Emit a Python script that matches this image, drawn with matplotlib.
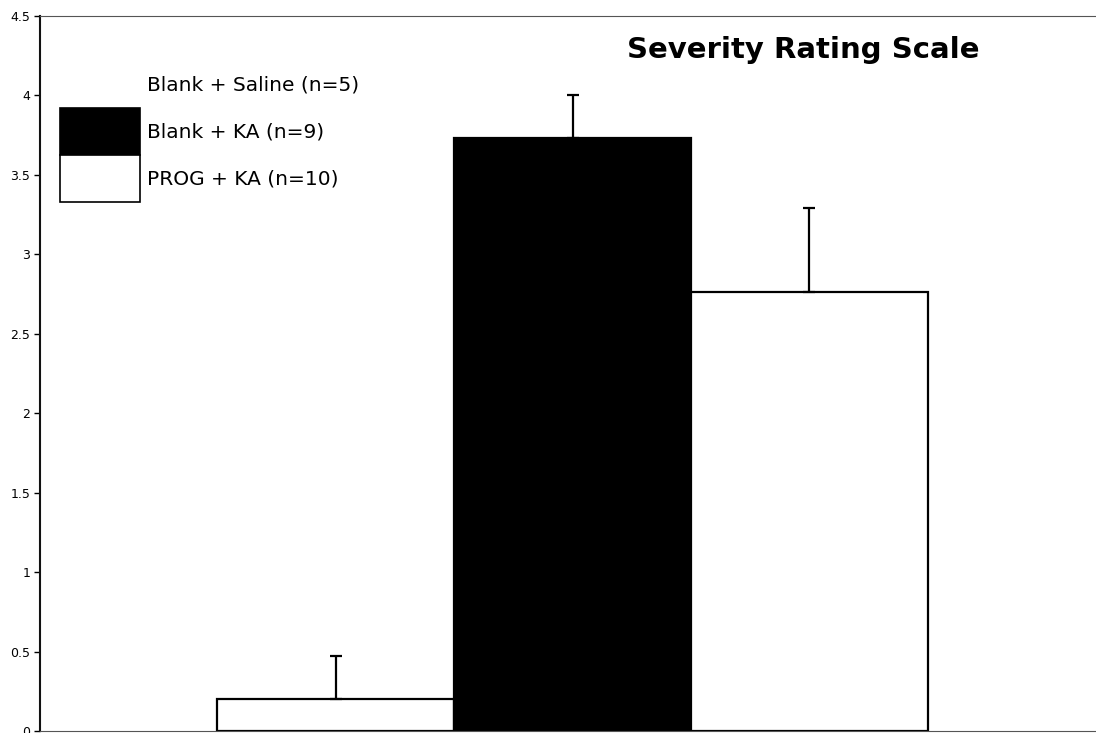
import matplotlib
matplotlib.use("Agg")
import matplotlib.pyplot as plt
from matplotlib.patches import Patch

groups = ["Blank + Saline (n=5)", "Blank + KA (n=9)", "PROG + KA (n=10)"]
means = [0.20, 3.73, 2.76]
err_up = [0.27, 0.27, 0.53]
fills = ["white", "black", "white"]
yticks = [0, 0.5, 1, 1.5, 2, 2.5, 3, 3.5, 4, 4.5]
ytick_labels = ["0", "0.5", "1", "1.5", "2", "2.5", "3", "3.5", "4", "4.5"]

W, H = 1096, 733
fig = plt.figure(figsize=(W / 100, H / 100), dpi=100)
ax = fig.add_axes([40 / W, 2 / H, 1.0 - 40 / W + 0.05, (731 - 16) / H])

x = list(range(len(groups)))
ax.bar(x, means, width=1.0, color=fills, edgecolor="black", linewidth=1.6, zorder=2)
ax.errorbar(x, means, yerr=[[0] * len(means), err_up], fmt="none", ecolor="black",
            elinewidth=1.6, capsize=4, capthick=1.6, zorder=3)

ax.set_xlim(-1.247, 3.209 + 0.05 * W / 237)
ax.set_ylim(0, 4.5)
ax.set_yticks(yticks)
ax.set_yticklabels(ytick_labels, fontsize=9)
ax.set_xticks([])
ax.tick_params(axis="y", direction="out", length=4, width=1, pad=3)

ax.spines["left"].set_linewidth(1.5)
ax.spines["left"].set_color("#111111")
ax.spines["top"].set_linewidth(0.8)
ax.spines["top"].set_color("#555555")
ax.spines["bottom"].set_linewidth(0.8)
ax.spines["bottom"].set_color("#555555")
ax.spines["right"].set_visible(False)

handles = [
    Patch(facecolor="white", edgecolor="none"),
    Patch(facecolor="black", edgecolor="black", linewidth=1.2),
    Patch(facecolor="white", edgecolor="black", linewidth=1.2),
]
fs = 14.5
px = fs * 100 / 72
hh = (47 / px - 0.245) / 0.65
leg = ax.legend(handles, groups, loc="upper left",
                bbox_to_anchor=(60 / W, (733 - 61) / H), bbox_transform=fig.transFigure,
                frameon=False, fontsize=fs, borderpad=0, borderaxespad=0,
                labelspacing=0, handlelength=80 / px, handleheight=hh,
                handletextpad=7 / px)

fig.text(627 / W, (733 - 50) / H, "Severity Rating Scale", fontsize=21,
         fontweight="bold", ha="left", va="center")

fig.savefig("out.png", dpi=100)
